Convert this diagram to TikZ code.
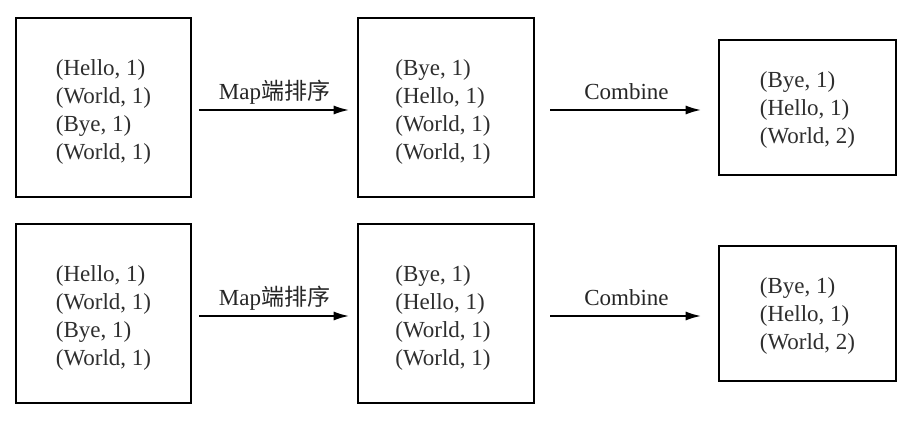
\documentclass[tikz,border=0pt]{standalone}
\usepackage{fontspec}
\setmainfont{Liberation Serif}
\newfontfamily\cjk{Noto Sans CJK SC}
\usetikzlibrary{arrows.meta}
\tikzset{
  x=1pt,y=1pt,
  databox/.style={draw=black,line width=2.6pt,inner sep=0pt},
  datatext/.style={align=left,inner sep=0pt,text=black!82,font=\fontsize{23}{28}\selectfont},
  flow/.style={line width=1.4pt,-{Latex[length=15pt,width=9pt]}},
  flowlabel/.style={midway,anchor=base,yshift=10pt,inner sep=0pt,text=black!85,font=\fontsize{23}{28}\selectfont}
}
\begin{document}
\begin{tikzpicture}
\useasboundingbox (0,0) rectangle (910,-427);
\foreach \r/\dy in {t/0,b/206}{
  \node[databox,minimum width=175pt,minimum height=179pt] (\r1) at (103.5,-107.5-\dy) {};
  \node[datatext] (\r1txt) at ([yshift=-4pt]\r1.center)
    {(Hello, 1)\\(World, 1)\\(Bye, 1)\\(World, 1)};
  \node[databox,minimum width=176pt,minimum height=179pt] (\r2) at (446,-107.5-\dy) {};
  \node[datatext] (\r2txt) at ([xshift=-3pt,yshift=-4pt]\r2.center)
    {(Bye, 1)\\(Hello, 1)\\(World, 1)\\(World, 1)};
  \node[databox,minimum width=177pt,minimum height=135pt] (\r3) at (807.5,-107.5-\dy) {};
  \node[datatext] (\r3txt) at ([yshift=-2pt]\r3.center)
    {(Bye, 1)\\(Hello, 1)\\(World, 2)};
  \draw[flow,shorten <=7pt,shorten >=8pt] ([yshift=-2.5pt]\r1.east) -- ([yshift=-2.5pt]\r2.west)
    node[flowlabel] {Map{\cjk 端排序}};
  \draw[flow,shorten <=15pt,shorten >=17pt] ([yshift=-2.5pt]\r2.east) -- ([yshift=-2.5pt]\r3.west)
    node[flowlabel] {Combine};
}
\end{tikzpicture}
\end{document}
